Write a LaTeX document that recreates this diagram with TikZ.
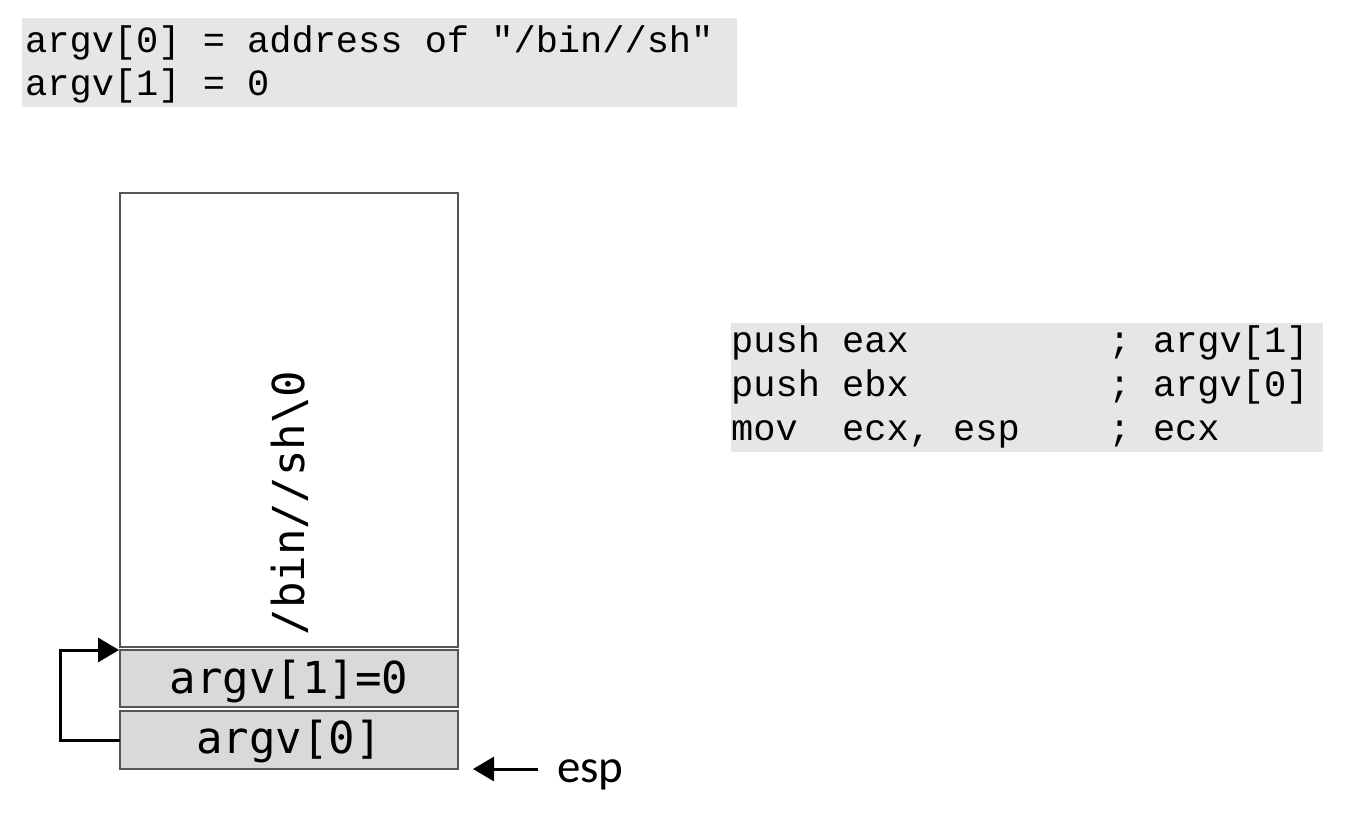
\documentclass[tikz,border=0pt]{standalone}
\usepackage{fontspec}
\newfontfamily\codefont{Liberation Mono}
\newfontfamily\boxfont{DejaVu Sans Mono}
\newfontfamily\labelfont{Carlito}
\usetikzlibrary{arrows.meta}
\definecolor{codebg}{HTML}{E6E6E6}
\definecolor{cellbg}{HTML}{D9D9D9}
\definecolor{cellline}{HTML}{555555}
\tikzset{
  codeline/.style={anchor=base west, inner sep=0pt, font=\codefont\fontsize{37}{40}\selectfont},
  cell/.style={draw=cellline, line width=1.5pt, fill=cellbg},
  celltext/.style={inner sep=0pt, font=\boxfont\fontsize{44}{48}\selectfont},
  conn/.style={line width=3pt, -{Triangle[length=21pt,width=24pt]}},
}
\begin{document}
\begin{tikzpicture}[x=1pt,y=-1pt]
\useasboundingbox (0,0) rectangle (1350,814);
% top code block
\fill[codebg] (22,18) rectangle (737,107);
\node[codeline] (t1) at (25,52) {argv[0] = address of "/bin//sh"};
\node[codeline] (t2) at (25,95) {argv[1] = 0};
% right code block
\fill[codebg] (731,323) rectangle (1323,452);
\node[codeline] (c1) at (731,352) {push eax\ \ \ \ \ \ \ \ \ ; argv[1]};
\node[codeline] (c2) at (731,396) {push ebx\ \ \ \ \ \ \ \ \ ; argv[0]};
\node[codeline] (c3) at (731,440) {mov\ \ ecx, esp\ \ \ \ ; ecx};
% stack
\draw[draw=cellline, line width=1.5pt, fill=white] (120,193) rectangle (458,647);
\node[celltext, rotate=90] (str) at (290,503) {/bin//sh\textbackslash 0};
\draw[cell] (120,650) rectangle (458,707);
\node[celltext] (a1) at (289,682) {argv[1]=0};
\draw[cell] (120,711) rectangle (458,769);
\node[celltext] (a0) at (289,742) {argv[0]};
\coordinate (a0w) at (120,740);
\coordinate (a1w) at (119,650);
\draw[conn] (a0w) -- (60,740) -- (60,650) -- (a1w);
% esp
\node[inner sep=0pt, anchor=base west, font=\labelfont\fontsize{47}{52}\selectfont] (esp) at (557,782) {esp};
\coordinate (espt) at (473,769);
\coordinate (esps) at (538,769);
\draw[conn] (esps) -- (espt);
\end{tikzpicture}
\end{document}
